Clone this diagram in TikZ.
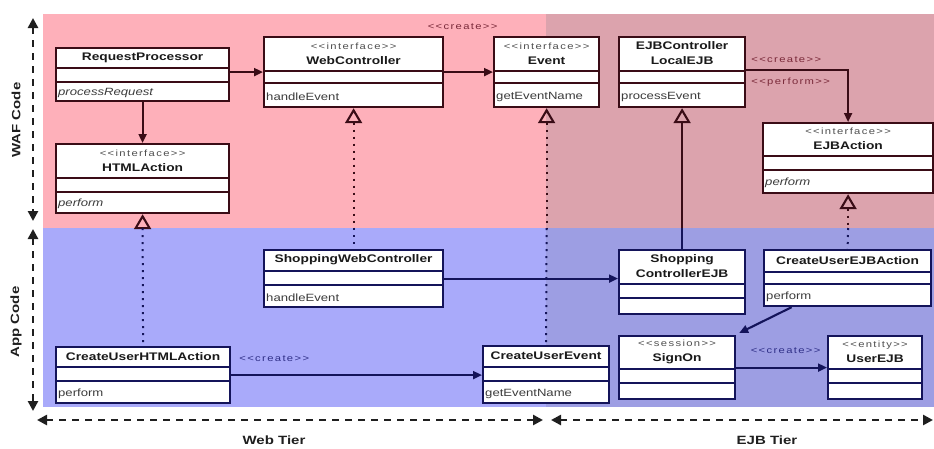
\documentclass[tikz,border=0pt]{standalone}
\usepackage{fontspec}
\setmainfont{Liberation Sans}[FakeStretch=1.25]
\newfontfamily\sterfont{Liberation Sans}[FakeStretch=1.25,LetterSpace=15]
\usetikzlibrary{arrows.meta,calc}

\definecolor{wafbg}{HTML}{FEB0BA}
\definecolor{wafbgejb}{HTML}{DCA3AD}
\definecolor{appbg}{HTML}{A9AAFA}
\definecolor{appbgejb}{HTML}{9D9EE3}
\definecolor{wafline}{HTML}{3A0C16}
\definecolor{appline}{HTML}{14145A}
\definecolor{waflbl}{HTML}{7A2A3A}
\definecolor{applbl}{HTML}{303088}
\definecolor{txt}{HTML}{1A1A1A}
\definecolor{ster}{HTML}{505050}

% stereotype and class-name helpers
\newcommand\stereo[1]{{\sterfont\fontsize{9}{10}\selectfont\color{ster}<<#1>>}}
\newcommand\cname[1]{{\bfseries #1}}

% UML class: #1 name, #2 north-west corner, #3 width,
% #4/#5/#6 compartment heights, #7 title, #8 operation
\newcommand\umlclass[8]{%
  \node[umlbox, minimum width=#3, minimum height=#4+#5+#6, anchor=north west] (#1) at (#2) {};
  \draw[umldiv] ([yshift=-#4]#1.north west) -- ([yshift=-#4]#1.north east);
  \draw[umldiv] ([yshift=-#4-#5]#1.north west) -- ([yshift=-#4-#5]#1.north east);
  \node[umltitle] at ([yshift=-#4/2]#1.north) {#7};
  \node[umlop] at ([xshift=3pt,yshift=#6/2]#1.south west) {#8};
}

\tikzset{
  umlbox/.style={draw=\lc, fill=white, line width=2.2pt, inner sep=0pt, rectangle},
  umldiv/.style={draw=\lc, line width=1.9pt},
  umltitle/.style={align=center, text=txt, inner sep=0pt,
    font=\fontsize{11}{15}\selectfont},
  umlop/.style={anchor=west, text=txt!85, inner sep=0pt,
    font=\fontsize{10.5}{12}\selectfont},
  assoc/.style={draw=#1, line width=2.1pt, -{Triangle[length=9pt,width=8pt]}},
  gentip/.style={draw=#1, line width=2.1pt, {Triangle[open,length=15pt,width=17pt]}-},
  dotgen/.style={gentip=#1, dash pattern=on 2pt off 5pt},
  dotline/.style={draw=#1, line width=2pt, dash pattern=on 2pt off 5pt},
  solidline/.style={draw=#1, line width=2.1pt},
  lbl/.style={inner sep=0pt, font=\sterfont\fontsize{9}{10}\selectfont},
  axis/.style={draw=black!88, line width=2.6pt, dash pattern=on 7pt off 6pt,
    {Triangle[length=10pt,width=10pt]}-{Triangle[length=10pt,width=10pt]}},
  axlbl/.style={inner sep=0pt, text=black!88, font=\fontsize{12}{14}\selectfont\bfseries},
}

\begin{document}
\begin{tikzpicture}[x=1pt,y=-1pt]
\useasboundingbox (0,0) rectangle (934,448);

% layer backgrounds
\fill[wafbg] (43,14) rectangle (934,228);
\fill[wafbgejb] (546,14) rectangle (934,228);
\fill[appbg] (43,228) rectangle (934,407);
\fill[appbgejb] (546,228) rectangle (934,407);
\coordinate (split) at (0,228);

% WAF classes
\def\lc{wafline}
\umlclass{rp}{55,47}{173pt}{21pt}{14pt}{18pt}{\cname{RequestProcessor}}{\itshape processRequest}
\umlclass{html}{55,143}{173pt}{35pt}{14pt}{20pt}{\stereo{interface}\\\cname{HTMLAction}}{\itshape perform}
\umlclass{wc}{263,36}{179pt}{35pt}{12pt}{23pt}{\stereo{interface}\\\cname{WebController}}{handleEvent}
\umlclass{ev}{493,36}{105pt}{35pt}{12pt}{23pt}{\stereo{interface}\\\cname{Event}}{getEventName}
\umlclass{ejbc}{618,36}{126pt}{35pt}{12pt}{23pt}{\cname{EJBController}\\\cname{LocalEJB}}{processEvent}
\umlclass{ejba}{762,122}{170pt}{34pt}{14pt}{22pt}{\stereo{interface}\\\cname{EJBAction}}{\itshape perform}

% application classes
\def\lc{appline}
\umlclass{swc}{263,249}{179pt}{22pt}{14pt}{21pt}{\cname{ShoppingWebController}}{handleEvent}
\umlclass{cuha}{55,346}{174pt}{21pt}{14pt}{21pt}{\cname{CreateUserHTMLAction}}{perform}
\umlclass{cue}{482,345}{126pt}{22pt}{14pt}{21pt}{\cname{CreateUserEvent}}{getEventName}
\umlclass{sce}{618,249}{126pt}{35pt}{14pt}{15pt}{\cname{Shopping}\\\cname{ControllerEJB}}{}
\umlclass{cuea}{763,249}{167pt}{23pt}{12pt}{21pt}{\cname{CreateUserEJBAction}}{perform}
\umlclass{so}{618,335}{116pt}{34pt}{14pt}{15pt}{\stereo{session}\\\cname{SignOn}}{}
\umlclass{ue}{827,335}{94pt}{34pt}{14pt}{15pt}{\stereo{entity}\\\cname{UserEJB}}{}

% associations inside the WAF layer
\draw[assoc=wafline] ([yshift=2.5pt]rp.east) -- ([yshift=2.5pt]rp.east -| wc.west);
\draw[assoc=wafline] (rp.south) -- (html.north);
\draw[assoc=wafline] (wc.east) -- (ev.west);
\node[lbl, text=waflbl] (lcreate1) at ($(wc.north east)!0.5!(ev.north west)+(-6pt,9pt)$) {<<create>>};
\draw[assoc=wafline] ([yshift=2pt]ejbc.east) -| (ejba.north);
\node[lbl, text=waflbl, anchor=west] (lcreate2) at ($(ejbc.east)+(5pt,12pt)$) {<<create>>};
\node[lbl, text=waflbl, anchor=west] (lperform) at ($(ejbc.east)+(5pt,-10pt)$) {<<perform>>};

% generalizations crossing the layer boundary
\coordinate (g1) at (html.south |- split);
\draw[dotgen=wafline] (html.south) -- (g1);
\draw[dotline=appline] (g1) -- (cuha.north);
\coordinate (g2) at (wc.south |- split);
\draw[dotgen=wafline] (wc.south) -- (g2);
\draw[dotline=appline] (g2) -- (swc.north);
\coordinate (g3) at (ev.south |- split);
\draw[dotgen=wafline] (ev.south) -- (g3);
\draw[dotline=appline] (g3) -- (cue.north);
\coordinate (g4) at (ejbc.south |- split);
\draw[gentip=wafline] (ejbc.south) -- (g4);
\draw[solidline=appline] (g4) -- (sce.north);
\coordinate (g5) at (ejba.south |- split);
\draw[dotgen=wafline] (ejba.south) -- (g5);
\draw[dotline=appline] (g5) -- (cuea.north);

% associations inside the application layer
\draw[assoc=appline] (swc.east) -- (swc.east -| sce.west);
\draw[assoc=appline] (cuha.east) -- (cuha.east -| cue.west);
\node[lbl, text=applbl, anchor=west] (lcreate3) at ($(cuha.east)+(8pt,16pt)$) {<<create>>};
\draw[assoc=appline] ([xshift=-56pt]cuea.south) -- ([shift={(3pt,2pt)}]so.north east);
\draw[assoc=appline] (so.east) -- (so.east -| ue.west);
\node[lbl, text=applbl] (lcreate4) at ($(so.east)!0.5!(ue.west)+(4pt,17pt)$) {<<create>>};

% layer and tier axes
\coordinate (wafTop) at (33,18);
\coordinate (wafBot) at (33,221);
\coordinate (appTop) at (33,229);
\coordinate (appBot) at (33,411);
\coordinate (webL) at (37,420);
\coordinate (webR) at (543,420);
\coordinate (ejbL) at (551,420);
\coordinate (ejbR) at (933,420);
\draw[axis] (wafTop) -- (wafBot);
\draw[axis] (appTop) -- (appBot);
\draw[axis] (webL) -- (webR);
\draw[axis] (ejbL) -- (ejbR);
\node[axlbl, rotate=90] (wafLbl) at (16,120) {WAF Code};
\node[axlbl, rotate=90] (appLbl) at (16,322) {App Code};
\node[axlbl] (webLbl) at (274,440) {Web Tier};
\node[axlbl] (ejbLbl) at (767,440) {EJB Tier};
\end{tikzpicture}
\end{document}
